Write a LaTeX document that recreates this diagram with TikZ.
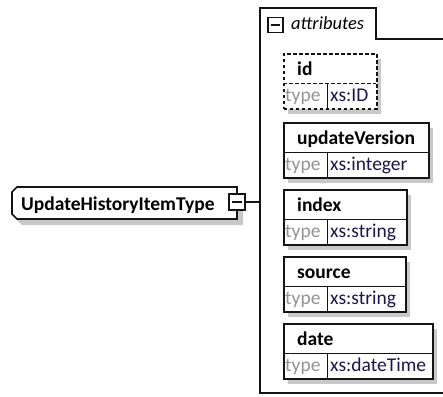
\documentclass[tikz,border=0pt]{standalone}
\usepackage{fontspec}
\setmainfont{Carlito}
\definecolor{typecol}{RGB}{30,20,75}
\definecolor{shadowcol}{RGB}{200,200,200}
\definecolor{linecol}{RGB}{20,20,20}
\newcommand{\attrbox}[6]{%
  \fill[shadowcol] (288,#2+6) rectangle (288+#3,#2+61);
  \node[ln,#6,fill=white,minimum width=#3 pt,minimum height=55pt,anchor=north west,inner sep=0] (#1) at (283,#2) {};
  \draw[dv,#6] (283,#2+30) -- (283+#3,#2+30);
  \draw[dv] (327,#2+30) -- (327,#2+55);
  \node[nm] (#1-name) at (297,#2+22) {#4};
  \node[tp] (#1-tl) at (285,#2+48) {type};
  \node[tv] (#1-tv) at (330,#2+48) {#5};
}
\begin{document}
\begin{tikzpicture}[x=1pt,y=-1pt,
  ln/.style={draw=linecol,line width=1.6pt},
  dv/.style={draw=linecol,line width=0.8pt},
  nm/.style={font=\fontsize{19.5}{19.5}\selectfont\bfseries,anchor=base west,inner sep=0},
  tp/.style={font=\fontsize{19.5}{19.5}\selectfont,text=black!42,anchor=base west,inner sep=0},
  tv/.style={font=\fontsize{19.5}{19.5}\selectfont,text=typecol,anchor=base west,inner sep=0},
  mbox/.style={ln,fill=white,minimum width=16pt,minimum height=16pt,inner sep=0,
    path picture={\draw[linecol,line width=1.2pt] ([xshift=3pt]path picture bounding box.west) -- ([xshift=-3pt]path picture bounding box.east);}}]
\useasboundingbox (0,0) rectangle (443,396);
% left type node
\fill[shadowcol] (22,193) -- (243,193) -- (243,225) -- (22,225) -- (17,220) -- (17,198) -- cycle;
\draw[ln,fill=white] (17,187) -- (237,187) -- (237,219) -- (17,219) -- (12,214) -- (12,192) -- cycle;
\node[nm] (typename) at (21,210) {UpdateHistoryItemType};
\node[mbox] (tmin) at (237,202) {};
\coordinate (join) at (260,202);
\draw[ln] (tmin.east) -- (join);
% attributes container
\draw[ln] (443,393) -- (260,393) -- (260,8) -- (376,8) -- (376,39) -- (443,39);
\node[mbox,minimum width=15pt,minimum height=15pt] (amin) at (275.5,25) {};
\node[font=\fontsize{18.5}{18.5}\selectfont\itshape,anchor=base west,inner sep=0] (attrlabel) at (291,30) {attributes};
% attribute boxes
\attrbox{id}{53}{93}{id}{xs:ID}{dash pattern=on 3.5pt off 2.5pt}
\attrbox{uv}{122}{145}{updateVersion}{xs:integer}{}
\attrbox{idx}{189}{123}{index}{xs:string}{}
\attrbox{src}{256}{122}{source}{xs:string}{}
\attrbox{dt}{323}{149}{date}{xs:dateTime}{}
\end{tikzpicture}
\end{document}
